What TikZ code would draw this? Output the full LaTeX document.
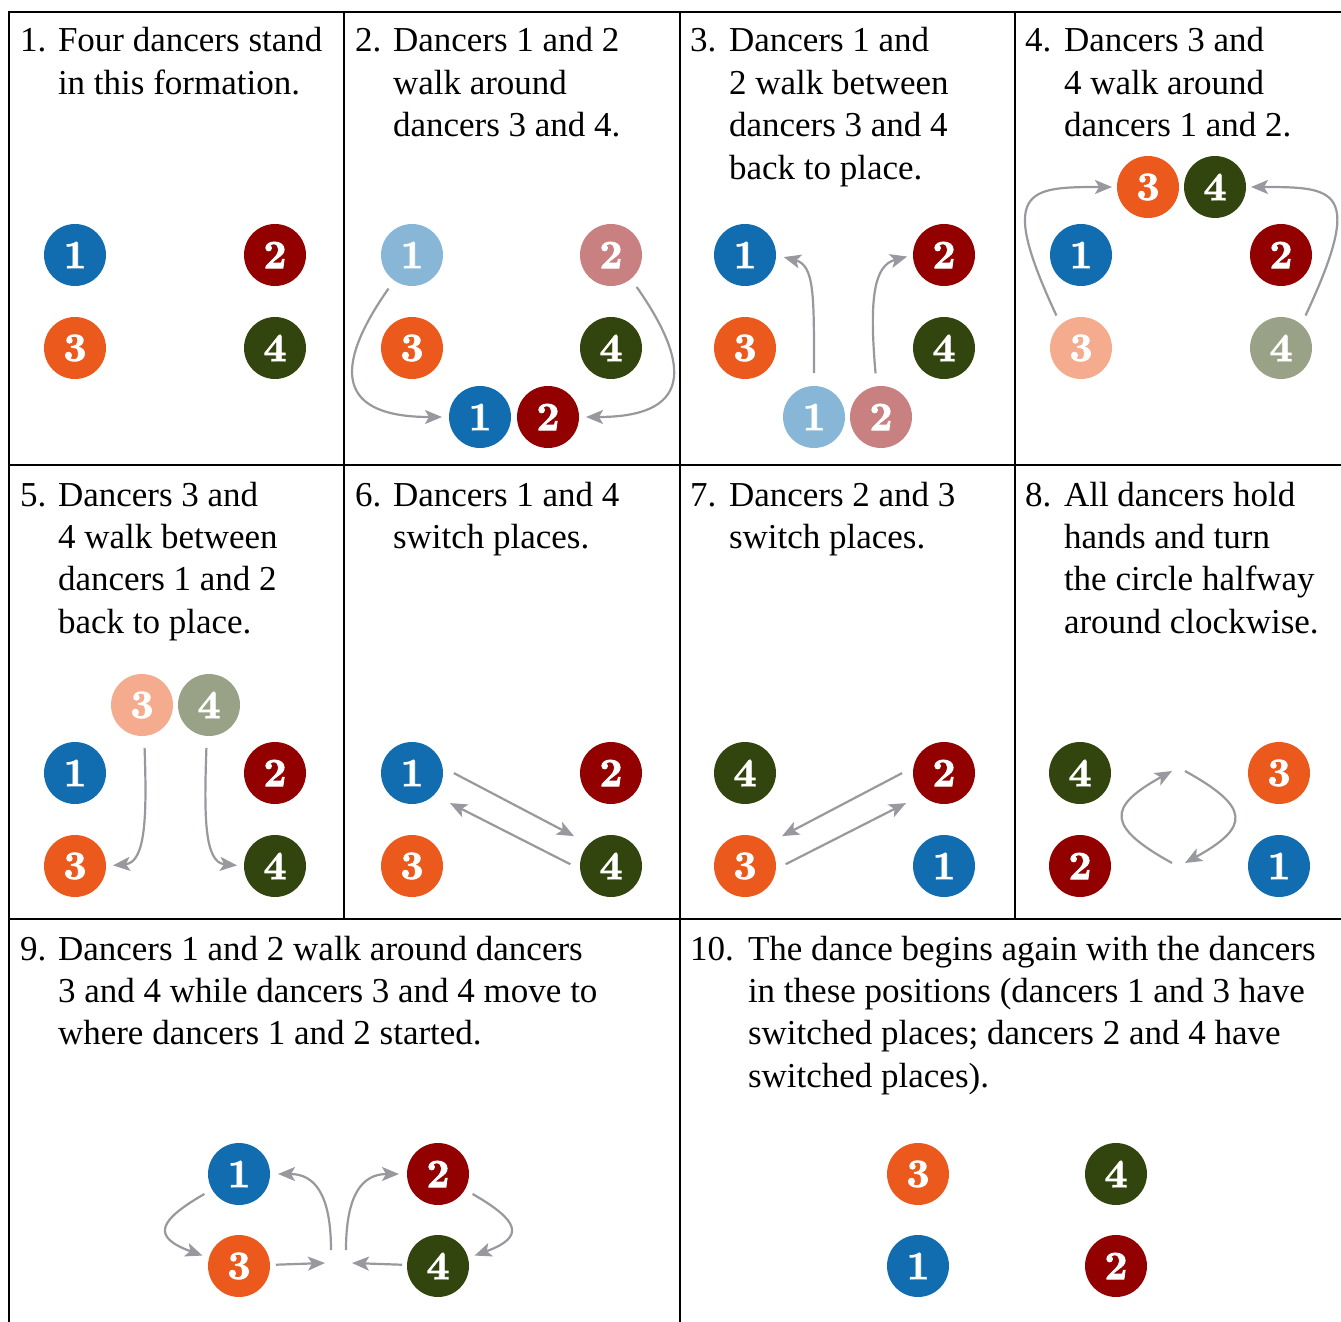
\documentclass[tikz,border=0pt]{standalone}
\usepackage{fontspec}
\newfontfamily\txtfont{Liberation Serif}
\newfontfamily\digitfont{lmroman10-bold.otf}[FakeBold=2]
\usetikzlibrary{arrows.meta,calc}
\definecolor{dblue}{HTML}{116DB0}
\definecolor{dred}{HTML}{930000}
\definecolor{dorange}{HTML}{EC591D}
\definecolor{dgreen}{HTML}{33450E}
\definecolor{agray}{HTML}{98999E}
\newcommand{\steplines}[1]{\begin{tabular}[t]{@{}l@{}}#1\end{tabular}}
\begin{document}
\begin{tikzpicture}[x=0.5pt,y=0.5pt,
  dancer/.style={circle,minimum size=31pt,inner sep=0pt,outer sep=0pt,text=white,
    font=\digitfont\fontsize{20}{20}\selectfont},
  d1/.style={dancer,fill=dblue},
  d2/.style={dancer,fill=dred},
  d3/.style={dancer,fill=dorange},
  d4/.style={dancer,fill=dgreen},
  f1/.style={dancer,fill=dblue!50!white},
  f2/.style={dancer,fill=dred!50!white},
  f3/.style={dancer,fill=dorange!50!white},
  f4/.style={dancer,fill=dgreen!50!white},
  arr/.style={draw=agray,line width=1.1pt,-{Stealth[length=8.5pt,width=7pt,inset=2pt]}},
  gridline/.style={line width=1.1pt,line cap=rect},
  num/.style={anchor=base west,inner sep=0pt,outer sep=0pt,
    font=\txtfont\fontsize{17.5}{21.2}\selectfont},
  txt/.style={num}]
\useasboundingbox (0,0) rectangle (1341,-1322);
% grid
\draw[gridline] (9,-1322) -- (9,-12) -- (1341,-12);
\draw[gridline] (344,-12) -- (344,-919);
\draw[gridline] (680,-12) -- (680,-1322);
\draw[gridline] (1015,-12) -- (1015,-919);
\draw[gridline] (9,-465) -- (1341,-465);
\draw[gridline] (9,-919) -- (1341,-919);

% ---------- texts
\node[num] (l1) at (20,-52) {1.};
\node[txt] (t1) at (58,-52) {\steplines{Four dancers stand\\in this formation.}};
\node[num] (l2) at (355,-52) {2.};
\node[txt] (t2) at (393,-52) {\steplines{Dancers 1 and 2\\walk around\\dancers 3 and 4.}};
\node[num] (l3) at (690,-52) {3.};
\node[txt] (t3) at (729,-52) {\steplines{Dancers 1 and\\2 walk between\\dancers 3 and 4\\back to place.}};
\node[num] (l4) at (1025,-52) {4.};
\node[txt] (t4) at (1064,-52) {\steplines{Dancers 3 and\\4 walk around\\dancers 1 and 2.}};
\node[num] (l5) at (20,-506) {5.};
\node[txt] (t5) at (58,-506) {\steplines{Dancers 3 and\\4 walk between\\dancers 1 and 2\\back to place.}};
\node[num] (l6) at (355,-506) {6.};
\node[txt] (t6) at (393,-506) {\steplines{Dancers 1 and 4\\switch places.}};
\node[num] (l7) at (690,-506) {7.};
\node[txt] (t7) at (729,-506) {\steplines{Dancers 2 and 3\\switch places.}};
\node[num] (l8) at (1025,-506) {8.};
\node[txt] (t8) at (1064,-506) {\steplines{All dancers hold\\hands and turn\\the circle halfway\\around clockwise.}};
\node[num] (l9) at (20,-960) {9.};
\node[txt] (t9) at (58,-960) {\steplines{Dancers 1 and 2 walk around dancers\\3 and 4 while dancers 3 and 4 move to\\where dancers 1 and 2 started.}};
\node[num] (l10) at (690,-960) {10.};
\node[txt] (t10) at (748,-960) {\steplines{The dance begins again with the dancers\\in these positions (dancers 1 and 3 have\\switched places; dancers 2 and 4 have\\switched places).}};

% ---------- panel 1
\node[d1] (p1n1) at (75,-255) {1};
\node[d2] (p1n2) at (275,-255) {2};
\node[d3] (p1n3) at (75,-348) {3};
\node[d4] (p1n4) at (275,-348) {4};

% ---------- panel 2
\node[f1] (p2f1) at (412,-255) {1};
\node[f2] (p2f2) at (611,-255) {2};
\node[d3] (p2n3) at (412,-348) {3};
\node[d4] (p2n4) at (611,-348) {4};
\node[d1] (p2n1) at (480,-417) {1};
\node[d2] (p2n2) at (548,-417) {2};
\draw[arr,shorten <=5pt,shorten >=3.5pt] (p2f1.235) .. controls +(235:110) and +(180:110) .. (p2n1.180);
\draw[arr,shorten <=5pt,shorten >=3.5pt] (p2f2.-50) .. controls +(-55:110) and +(0:110) .. (p2n2.0);

% ---------- panel 3
\node[d1] (p3n1) at (745,-255) {1};
\node[d2] (p3n2) at (944,-255) {2};
\node[d3] (p3n3) at (745,-348) {3};
\node[d4] (p3n4) at (944,-348) {4};
\node[f1] (p3f1) at (814,-417) {1};
\node[f2] (p3f2) at (881,-417) {2};
\draw[arr,shorten <=6.5pt,shorten >=4pt] (p3f1.90) .. controls +(90:90) and +(-15:40) .. (p3n1.0);
\draw[arr,shorten <=6.5pt,shorten >=3pt] (p3f2.98) .. controls +(95:90) and +(195:40) .. (p3n2.180);

% ---------- panel 4
\node[d3] (p4n3) at (1148,-187) {3};
\node[d4] (p4n4) at (1215,-187) {4};
\node[d1] (p4n1) at (1081,-255) {1};
\node[d2] (p4n2) at (1281,-255) {2};
\node[f3] (p4f3) at (1081,-348) {3};
\node[f4] (p4f4) at (1281,-348) {4};
\draw[arr,shorten <=5pt,shorten >=2.5pt] (p4f3.131) .. controls +(115:150) and +(180:90) .. (p4n3.180);
\draw[arr,shorten <=5pt,shorten >=2.5pt] (p4f4.49) .. controls +(65:150) and +(0:90) .. (p4n4.0);

% ---------- panel 5
\node[f3] (p5f3) at (142,-705) {3};
\node[f4] (p5f4) at (209,-705) {4};
\node[d1] (p5n1) at (75,-773) {1};
\node[d2] (p5n2) at (275,-773) {2};
\node[d3] (p5n3) at (75,-866) {3};
\node[d4] (p5n4) at (275,-866) {4};
\draw[arr,shorten <=6pt,shorten >=3.5pt] (p5f3.-86) .. controls +(-88:80) and +(5:40) .. (p5n3.0);
\draw[arr,shorten <=6pt,shorten >=3.5pt] (p5f4.-94) .. controls +(-92:80) and +(175:40) .. (p5n4.180);

% ---------- panel 6
\node[d1] (p6n1) at (412,-773) {1};
\node[d2] (p6n2) at (611,-773) {2};
\node[d3] (p6n3) at (412,-866) {3};
\node[d4] (p6n4) at (611,-866) {4};
\draw[arr,shorten <=6.5pt,shorten >=8.5pt] (p6n1.11) -- (p6n4.135);
\draw[arr,shorten <=5.5pt,shorten >=9pt] (p6n4.186) -- (p6n1.-45);

% ---------- panel 7
\node[d4] (p7n4) at (745,-773) {4};
\node[d2] (p7n2) at (944,-773) {2};
\node[d3] (p7n3) at (745,-866) {3};
\node[d1] (p7n1) at (944,-866) {1};
\draw[arr,shorten <=6.5pt,shorten >=8.5pt] (p7n2.169) -- (p7n3.45);
\draw[arr,shorten <=5.5pt,shorten >=9pt] (p7n3.-6) -- (p7n2.225);

% ---------- panel 8
\node[d4] (p8n4) at (1080,-773) {4};
\node[d3] (p8n3) at (1279,-773) {3};
\node[d2] (p8n2) at (1080,-866) {2};
\node[d1] (p8n1) at (1279,-866) {1};
\coordinate (r8a) at (1172,-863);
\coordinate (r8b) at (1172,-771);
\coordinate (r8c) at (1185,-771);
\coordinate (r8d) at (1185,-863);
\draw[arr] (r8a) .. controls (1106.6,-826.8) and (1106.6,-807.2) .. (r8b);
\draw[arr] (r8c) .. controls (1250.4,-807.2) and (1250.4,-826.8) .. (r8d);

% ---------- panel 9
\node[d1] (p9n1) at (239,-1174) {1};
\node[d2] (p9n2) at (438,-1174) {2};
\node[d3] (p9n3) at (239,-1266) {3};
\node[d4] (p9n4) at (438,-1266) {4};
\coordinate (m9l) at (325,-1263);
\coordinate (m9r) at (352,-1263);
\coordinate (u9l) at (331,-1250);
\coordinate (u9r) at (346,-1250);
\draw[arr,shorten <=4.5pt,shorten >=3.5pt] (p9n1.210) .. controls +(210:62) and +(160:62) .. (p9n3.165);
\draw[arr,shorten <=4.5pt,shorten >=3.5pt] (p9n2.-30) .. controls +(-30:62) and +(20:62) .. (p9n4.15);
\draw[arr,shorten <=3pt] (p9n3) -- (m9l);
\draw[arr,shorten <=2.5pt] (p9n4) -- (m9r);
\draw[arr,shorten >=4pt] (u9l) .. controls +(90:55) and +(0:45) .. (p9n1.0);
\draw[arr,shorten >=4pt] (u9r) .. controls +(90:55) and +(180:45) .. (p9n2.180);

% ---------- panel 10
\node[d3] (p10n3) at (918,-1174) {3};
\node[d4] (p10n4) at (1116,-1174) {4};
\node[d1] (p10n1) at (918,-1266) {1};
\node[d2] (p10n2) at (1116,-1266) {2};
\end{tikzpicture}
\end{document}
